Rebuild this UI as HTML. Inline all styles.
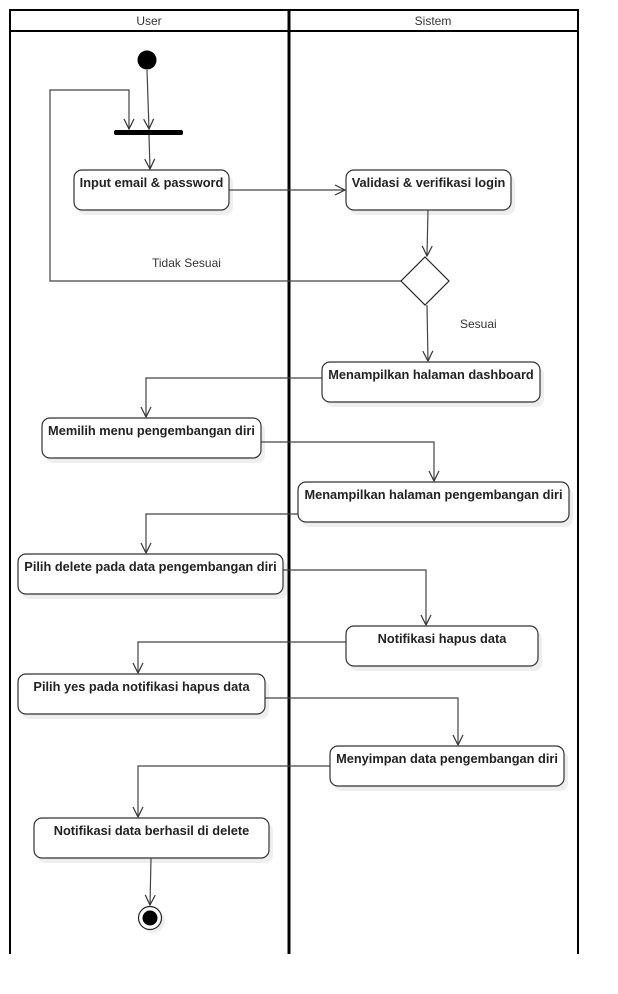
<!DOCTYPE html>
<html><head><meta charset="utf-8"><style>
html,body{margin:0;padding:0;background:#fff;width:618px;height:994px;overflow:hidden}
svg{display:block}
.b{font-family:"Liberation Sans",sans-serif;font-weight:bold;font-size:12.8px;fill:#222}
.n{font-family:"Liberation Sans",sans-serif;font-size:12px;fill:#333}
.box{fill:#fff;stroke:#333;stroke-width:1.2}
.sh{fill:#eee}
.l{fill:none;stroke:#444;stroke-width:1.2}
</style></head><body>
<svg width="618" height="994" viewBox="0 0 618 994" xmlns="http://www.w3.org/2000/svg">
<defs><marker id="a" markerWidth="12" markerHeight="12" refX="11" refY="6" orient="auto" markerUnits="userSpaceOnUse" viewBox="0 0 12 12"><path d="M1,1 L11,6 L1,11" fill="none" stroke="#333" stroke-width="1.2"/></marker></defs>
<rect x="10" y="10" width="568" height="21" fill="none" stroke="#000" stroke-width="2"/>
<line x1="10" y1="10" x2="10" y2="954" stroke="#000" stroke-width="2"/>
<line x1="289" y1="10" x2="289" y2="954" stroke="#000" stroke-width="3"/>
<line x1="578" y1="10" x2="578" y2="954" stroke="#000" stroke-width="2"/>
<text class="n" x="149" y="25" text-anchor="middle" fill="#444">User</text>
<text class="n" x="433" y="25" text-anchor="middle" fill="#444">Sistem</text>

<g class="sh">
<rect x="78" y="175" width="155" height="40" rx="8"/>
<rect x="350" y="175" width="165" height="40" rx="8"/>
<rect x="326" y="367" width="218" height="40" rx="8"/>
<rect x="46" y="423" width="219" height="40" rx="8"/>
<rect x="302" y="487" width="271" height="40" rx="8"/>
<rect x="22" y="559" width="265" height="40" rx="8"/>
<rect x="350" y="631" width="192" height="40" rx="8"/>
<rect x="22" y="679" width="247" height="40" rx="8"/>
<rect x="334" y="751" width="234" height="40" rx="8"/>
<rect x="38" y="823" width="235" height="40" rx="8"/>
</g>

<circle cx="147" cy="60" r="9.5" fill="#000"/>
<rect x="114" y="130" width="69" height="5" rx="2" fill="#000"/>

<path class="l" d="M147,70 L149,129" marker-end="url(#a)"/>
<path class="l" d="M401,281 L50,281 L50,90 L129,90 L129,129" marker-end="url(#a)"/>
<path class="l" d="M149,135 L150,169" marker-end="url(#a)"/>
<path class="l" d="M229,190 L345,190" marker-end="url(#a)"/>
<path class="l" d="M428,210 L427,256" marker-end="url(#a)"/>
<path class="l" d="M427,305 L428,361" marker-end="url(#a)"/>
<path class="l" d="M322,378 L146,378 L146,417" marker-end="url(#a)"/>
<path class="l" d="M261,442 L434,442 L434,481" marker-end="url(#a)"/>
<path class="l" d="M298,514 L146,514 L146,553" marker-end="url(#a)"/>
<path class="l" d="M283,570 L426,570 L426,625" marker-end="url(#a)"/>
<path class="l" d="M346,642 L138,642 L138,673" marker-end="url(#a)"/>
<path class="l" d="M265,698 L458,698 L458,745" marker-end="url(#a)"/>
<path class="l" d="M330,766 L138,766 L138,817" marker-end="url(#a)"/>
<path class="l" d="M151,858 L150,905" marker-end="url(#a)"/>

<path d="M425,257 L449,281 L425,305 L401,281 Z" fill="#fff" stroke="#222" stroke-width="1.2"/>
<text class="n" x="152" y="267">Tidak Sesuai</text>
<text class="n" x="460" y="328">Sesuai</text>

<rect class="box" x="74" y="170" width="155" height="40" rx="8"/>
<text class="b" x="151.5" y="187" text-anchor="middle">Input email &amp; password</text>
<rect class="box" x="346" y="170" width="165" height="40" rx="8"/>
<text class="b" x="428.5" y="187" text-anchor="middle">Validasi &amp; verifikasi login</text>
<rect class="box" x="322" y="362" width="218" height="40" rx="8"/>
<text class="b" x="431" y="379" text-anchor="middle">Menampilkan halaman dashboard</text>
<rect class="box" x="42" y="418" width="219" height="40" rx="8"/>
<text class="b" x="151.5" y="435" text-anchor="middle">Memilih menu pengembangan diri</text>
<rect class="box" x="298" y="482" width="271" height="40" rx="8"/>
<text class="b" x="433.5" y="499" text-anchor="middle">Menampilkan halaman pengembangan diri</text>
<rect class="box" x="18" y="554" width="265" height="40" rx="8"/>
<text class="b" x="150.5" y="571" text-anchor="middle">Pilih delete pada data pengembangan diri</text>
<rect class="box" x="346" y="626" width="192" height="40" rx="8"/>
<text class="b" x="442" y="643" text-anchor="middle">Notifikasi hapus data</text>
<rect class="box" x="18" y="674" width="247" height="40" rx="8"/>
<text class="b" x="141.5" y="691" text-anchor="middle">Pilih yes pada notifikasi hapus data</text>
<rect class="box" x="330" y="746" width="234" height="40" rx="8"/>
<text class="b" x="447" y="763" text-anchor="middle">Menyimpan data pengembangan diri</text>
<rect class="box" x="34" y="818" width="235" height="40" rx="8"/>
<text class="b" x="151.5" y="835" text-anchor="middle">Notifikasi data berhasil di delete</text>

<circle cx="153" cy="921" r="12" fill="#eee"/>
<circle cx="150" cy="918" r="11.5" fill="#fff" stroke="#222" stroke-width="1.2"/>
<circle cx="150" cy="918" r="7.5" fill="#000"/>
</svg>
</body></html>
